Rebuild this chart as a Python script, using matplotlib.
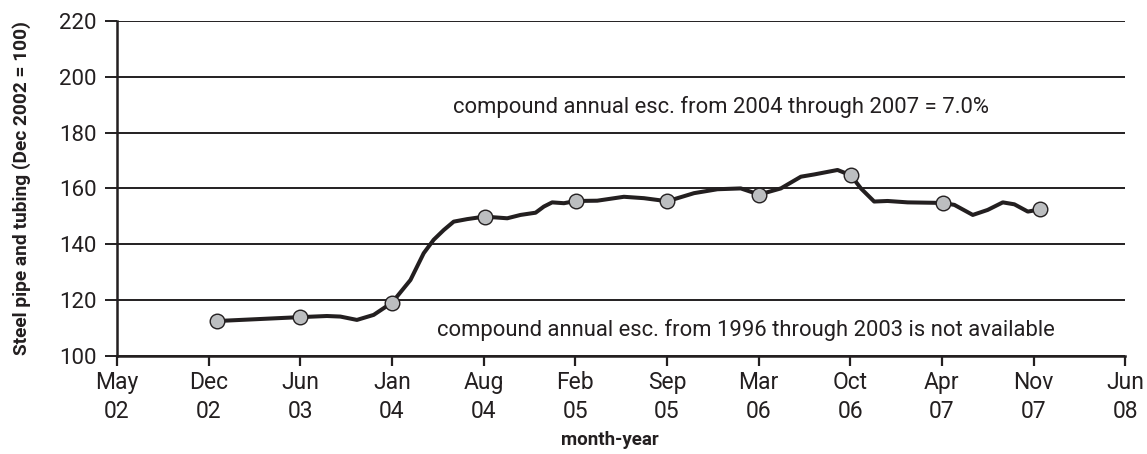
import matplotlib.pyplot as plt
import numpy as np

plt.rcParams['font.family'] = ['Roboto', 'DejaVu Sans']

# decimal year and index value of the traced line
LINE_YEARS = [2002.936, 2003.439, 2003.600, 2003.681, 2003.781, 2003.882, 2003.993,
              2004.104, 2004.184, 2004.244, 2004.305, 2004.365, 2004.446, 2004.551,
              2004.688, 2004.768, 2004.859, 2004.909, 2004.959, 2005.030, 2005.102,
              2005.231, 2005.392, 2005.513, 2005.654, 2005.815, 2005.956, 2006.097,
              2006.208, 2006.339, 2006.460, 2006.540, 2006.681, 2006.761, 2006.822,
              2006.902, 2006.983, 2007.104, 2007.315, 2007.386, 2007.497, 2007.587,
              2007.678, 2007.748, 2007.829, 2007.905]
LINE_VALUES = [112.5, 113.9, 114.3, 114.1, 112.9, 114.7, 119.1,
               127.2, 136.8, 141.6, 145.1, 148.1, 149.0, 149.9,
               149.3, 150.5, 151.3, 153.5, 155.0, 154.7, 155.5,
               155.6, 157.0, 156.5, 155.4, 158.3, 159.7, 160.0,
               157.8, 160.0, 164.2, 165.0, 166.6, 164.7, 160.0,
               155.3, 155.5, 155.0, 154.8, 154.1, 150.5, 152.3,
               155.0, 154.3, 151.7, 152.5]

# highlighted points
MARKER_YEARS = [2002.936, 2003.439, 2003.993, 2004.551, 2005.102, 2005.654,
                2006.208, 2006.761, 2007.315, 2007.905]
MARKER_VALUES = [112.5, 113.9, 119.1, 149.9, 155.5, 155.4, 157.8, 164.7, 154.8, 152.5]

TICK_LABELS = ['May\n02', 'Dec\n02', 'Jun\n03', 'Jan\n04', 'Aug\n04', 'Feb\n05',
               'Sep\n05', 'Mar\n06', 'Oct\n06', 'Apr\n07', 'Nov\n07', 'Jun\n08']
X_START = 2002 + 4 / 12
X_END = 2008 + 5 / 12

NOTE_TOP = 'compound annual esc. from 2004 through 2007 = 7.0%'
NOTE_BOTTOM = 'compound annual esc. from 1996 through 2003 is not available'

INK = '#231f20'

fig = plt.figure(figsize=(11.47, 4.54), dpi=100)
ax = fig.add_axes([0.102, 0.216, 0.879, 0.738])

ax.plot(LINE_YEARS, LINE_VALUES, color=INK, linewidth=2.9,
        solid_joinstyle='round', solid_capstyle='round', zorder=3)
ax.plot(MARKER_YEARS, MARKER_VALUES, linestyle='none', marker='o',
        markersize=10.5, markerfacecolor='#bcbec0', markeredgecolor=INK,
        markeredgewidth=1.0, zorder=4)

ax.set_xlim(X_START, X_END)
ax.set_ylim(100, 220)
ax.set_xticks(np.linspace(X_START, X_END, len(TICK_LABELS)))
ax.set_xticklabels(TICK_LABELS, fontsize=16.5, linespacing=1.3, color=INK)
ax.set_yticks(np.arange(100, 221, 20))
ax.tick_params(axis='y', labelsize=16, length=8.6, width=1.4, colors=INK, pad=6)
ax.tick_params(axis='x', length=7, width=1.6, colors=INK, pad=4)

ax.grid(True, axis='y', color=INK, linewidth=1.4, zorder=1)
ax.set_axisbelow(True)
for side in ['top', 'right']:
    ax.spines[side].set_visible(False)
for side in ['left', 'bottom']:
    ax.spines[side].set_color(INK)
    ax.spines[side].set_linewidth(1.8)

ax.set_xlabel('month-year', fontsize=13.5, fontweight='bold', color=INK, labelpad=6)
ax.xaxis.label.set_x(0.489)
ax.set_ylabel('Steel pipe and tubing (Dec 2002 = 100)', fontsize=13.8,
              fontweight='bold', color=INK)
ax.yaxis.set_label_coords(-0.085, 0.5)

ax.text(0.333, 0.743, NOTE_TOP, transform=ax.transAxes, ha='left', va='center',
        fontsize=15.8, color=INK)
ax.text(0.317, 0.078, NOTE_BOTTOM, transform=ax.transAxes, ha='left', va='center',
        fontsize=15.8, color=INK)

fig.savefig('out.png', dpi=100)
